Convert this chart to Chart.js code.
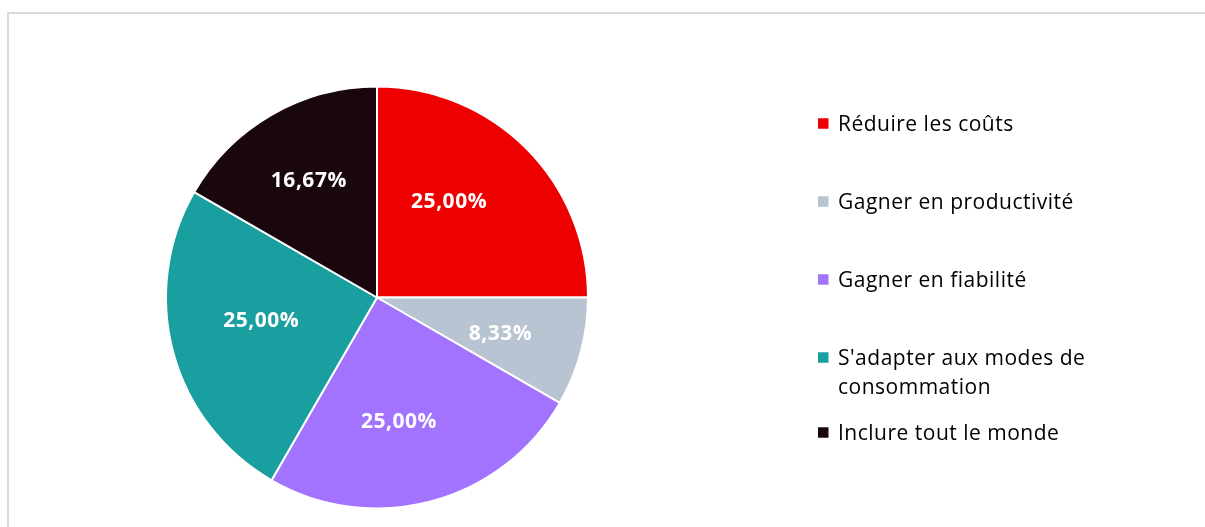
<!DOCTYPE html>
<html>
<head>
<meta charset="utf-8">
<script src="https://cdn.jsdelivr.net/npm/chart.js@4/dist/chart.umd.min.js"></script>
<style>
html,body{margin:0;padding:0;background:#fff;}
#wrap{position:relative;width:1205px;height:527px;}
</style>
</head>
<body>
<div id="wrap"><canvas id="c" width="1205" height="527"></canvas></div>
<script>
const categories = ["Réduire les coûts", "Gagner en productivité", "Gagner en fiabilité", "S'adapter aux modes de consommation", "Inclure tout le monde"];
const legendLines = [["Réduire les coûts"], ["Gagner en productivité"], ["Gagner en fiabilité"], ["S'adapter aux modes de", "consommation"], ["Inclure tout le monde"]];
const values = [25.00, 8.33, 25.00, 25.00, 16.67];
const valueLabels = ["25,00%", "8,33%", "25,00%", "25,00%", "16,67%"];
const colors = ["#EE0000", "#B8C4D2", "#A173FF", "#1A9FA0", "#1A070D"];

// label placement (style): [fraction of radius, angle shift in degrees from slice middle]
const labelPlacement = [[0.573, -8.4], [0.608, 0.8], [0.592, 4.9], [0.559, 4.3], [0.646, 0]];
// legend layout (style)
const legendBaselines = [131, 209, 287, 365, 440];

const frame = {
  id: 'frame',
  beforeDraw(chart) {
    const ctx = chart.ctx;
    ctx.save();
    ctx.strokeStyle = '#D9D9D9';
    ctx.lineWidth = 2;
    ctx.beginPath();
    ctx.moveTo(8, 527);
    ctx.lineTo(8, 13);
    ctx.lineTo(1205, 13);
    ctx.stroke();
    ctx.restore();
  }
};

const sliceLabels = {
  id: 'sliceLabels',
  afterDatasetsDraw(chart) {
    const ctx = chart.ctx;
    const meta = chart.getDatasetMeta(0);
    ctx.save();
    ctx.fillStyle = '#FFFFFF';
    ctx.font = 'bold 21px "Open Sans", "Noto Sans", sans-serif';
    try { ctx.letterSpacing = '0.5px'; } catch (e) {}
    ctx.textAlign = 'center';
    ctx.textBaseline = 'alphabetic';
    meta.data.forEach((arc, i) => {
      const p = arc.getProps(['x', 'y', 'startAngle', 'endAngle', 'outerRadius'], true);
      const mid = (p.startAngle + p.endAngle) / 2 + labelPlacement[i][1] * Math.PI / 180;
      const r = p.outerRadius * labelPlacement[i][0];
      ctx.fillText(valueLabels[i], p.x + Math.cos(mid) * r, p.y + Math.sin(mid) * r + 7.5);
    });
    ctx.restore();
  }
};

const customLegend = {
  id: 'customLegend',
  afterDraw(chart) {
    const ctx = chart.ctx;
    ctx.save();
    ctx.font = '21px "Open Sans", "Noto Sans", sans-serif';
    try { ctx.letterSpacing = '0.5px'; } catch (e) {}
    ctx.textBaseline = 'alphabetic';
    ctx.textAlign = 'left';
    const boxX = 818, textX = 838, box = 10.5, lineH = 29;
    legendLines.forEach((lines, i) => {
      const y = legendBaselines[i];
      ctx.fillStyle = colors[i];
      ctx.fillRect(boxX, y - 7.5 - box / 2, box, box);
      ctx.fillStyle = '#000000';
      lines.forEach((t, k) => ctx.fillText(t, textX, y + k * lineH));
    });
    ctx.restore();
  }
};

new Chart(document.getElementById('c'), {
  type: 'pie',
  data: {
    labels: categories,
    datasets: [{
      data: values,
      backgroundColor: colors,
      borderColor: '#FFFFFF',
      borderWidth: 2,
      radius: 211
    }]
  },
  options: {
    responsive: false,
    animation: false,
    layout: { padding: { left: 165, right: 616, top: 85.5, bottom: 17.5 } },
    plugins: {
      legend: { display: false },
      tooltip: { enabled: false }
    }
  },
  plugins: [frame, sliceLabels, customLegend]
});
</script>
</body>
</html>
